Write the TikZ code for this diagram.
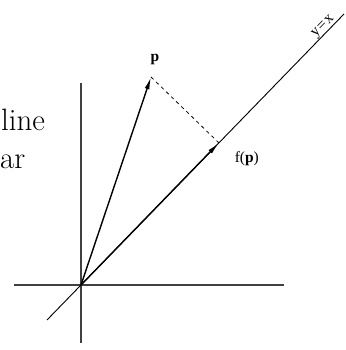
\documentclass[tikz,border=0pt]{standalone}
\usepackage{fontspec}
\newfontfamily\labelfont{Liberation Serif}
\usetikzlibrary{arrows.meta,calc}

\begin{document}
\begin{tikzpicture}[axis/.style={draw=black!75, line width=1.8pt},vec/.style={draw=black, line width=2pt, -{Latex[length=0.62cm, width=0.24cm]}},diag/.style={draw=black, line width=1.3pt},proj/.style={draw=black, line width=1.1pt, dash pattern=on 5pt off 5pt},lbl/.style={font=\labelfont\fontsize{22}{26}\selectfont, inner sep=1pt},big/.style={font=\fontsize{44}{52}\selectfont, inner sep=0pt, anchor=base west}]
\useasboundingbox (0,0) rectangle (17.25,17.5);
\coordinate (O) at (4.05,3.25);\coordinate (xl) at (0.7,3.25);\coordinate (xr) at (14.2,3.25);\coordinate (yb) at (4.05,0.35);\coordinate (yt) at (4.05,13.35);
\coordinate (dl) at (2.35,1.5);\coordinate (du) at (17.2,16.8);
\coordinate (p) at (7.55,13.65);\coordinate (fp) at ($(O)!(p)!(du)$);
\node[big] (line) at (0.05,10.95) {line};\node[big] (ar) at (0,9.05) {ar};
\draw[axis] (xl) -- (xr);\draw[axis] (yb) -- (yt);
\draw[diag] (dl) -- (du) node[pos=0.945, sloped, above=-1pt, lbl] (eq) {y\kern2pt=\kern2pt x};
\draw[proj] (p) -- (fp);
\draw[vec] (O) -- (p);\draw[vec] (O) -- (fp);
\node[lbl, font=\labelfont\bfseries\fontsize{22}{26}\selectfont] (plabel) at (7.75,14.5) {p};
\node[lbl, anchor=west] (fplabel) at (11.7,9.55) {f(\textbf{p})};
\end{tikzpicture}
\end{document}
